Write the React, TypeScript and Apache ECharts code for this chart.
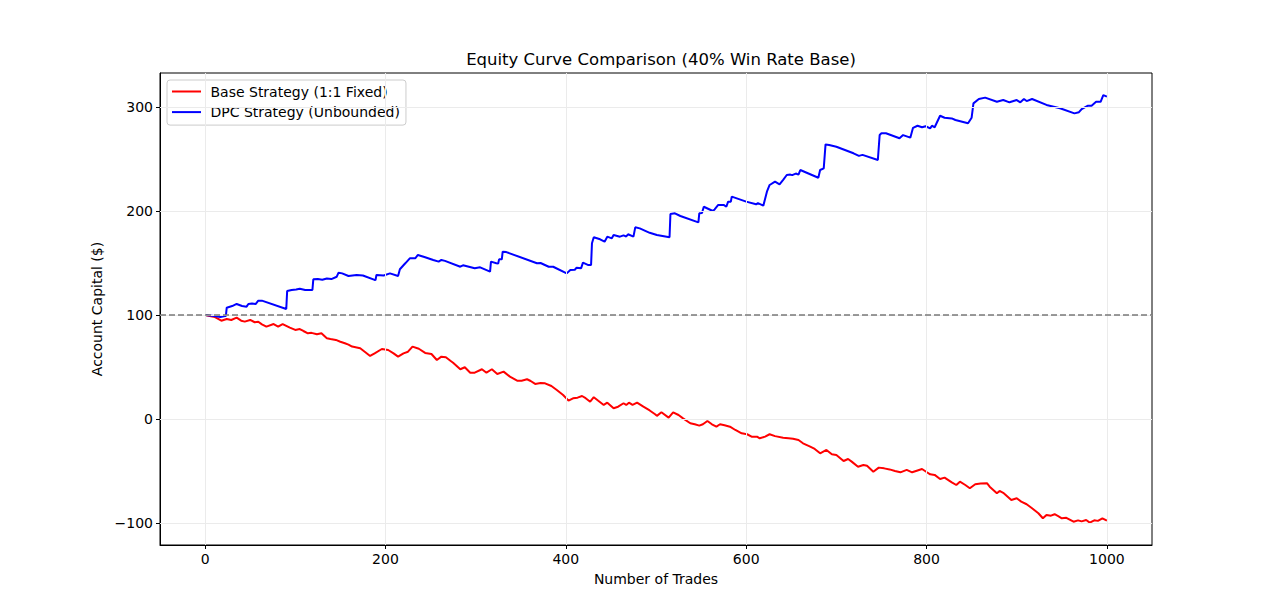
import React, { useEffect, useRef } from "react";
import * as echarts from "echarts";

const xTicks = [0, 200, 400, 600, 800, 1000];
const yTicks = [-100, 0, 100, 200, 300];

// Base Strategy (1:1 Fixed)
const baseTrades = [
  0, 5, 11, 18, 24, 29, 35, 40, 44, 50, 55, 59, 63, 68, 76, 81, 86, 94, 100, 105,
  109, 114, 118, 124, 129, 135, 139, 145, 150, 155, 159, 163, 172, 177, 183, 188, 196, 203, 209, 214,
  220, 225, 230, 237, 244, 251, 257, 262, 267, 272, 275, 283, 288, 294, 299, 307, 312, 318, 324, 331,
  338, 346, 351, 357, 361, 366, 372, 377, 384, 390, 397, 403, 408, 413, 418, 422, 427, 431, 436, 442,
  446, 453, 458, 464, 467, 470, 474, 479, 486, 493, 499, 501, 506, 514, 519, 525, 530, 538, 543, 548,
  552, 557, 562, 567, 571, 576, 582, 588, 595, 601, 606, 612, 615, 621, 626, 632, 641, 647, 652, 658,
  663, 671, 676, 682, 689, 695, 700, 708, 713, 717, 724, 730, 734, 741, 747, 753, 759, 765, 771, 778,
  784, 790, 795, 800, 804, 809, 815, 820, 828, 833, 837, 843, 848, 854, 860, 867, 870, 878, 881, 885,
  894, 900, 905, 911, 917, 924, 929, 933, 938, 942, 946, 950, 955, 963, 968, 972, 977, 981, 986, 990,
  995, 1000,
];
const baseCapital = [
  100, 99, 98, 94.5, 96.2, 95.2, 97.4, 94.5, 93.6, 95.2, 93, 93.5, 91, 88.8, 91.3, 88.8, 91.3, 87.8, 85.6, 86.5,
  84.6, 82.4, 82.8, 81.4, 82.4, 77.6, 76.9, 76, 74.3, 72.8, 71.5, 69.6, 68, 64.7, 60.6, 63.1, 67.3, 66.3, 63.1, 59.9,
  63.1, 64.7, 69.6, 67.5, 63.5, 62.5, 56.7, 59.9, 59.3, 56, 54.1, 47.8, 49.7, 44.5, 44.5, 47.8, 44.5, 47.8, 43.3, 45.5,
  40.7, 36.8, 36.8, 38.2, 36.5, 33.7, 34.5, 34.3, 31.7, 27.9, 23.1, 17.6, 19.9, 20.5, 22.1, 20, 16.6, 20.9, 17.5, 13.5,
  15.7, 10.3, 11.8, 15.1, 13.5, 15.7, 13.5, 15.7, 11.8, 8.2, 4.5, 3, 6.4, 1.3, 6.4, 3.8, 0.6, -4.1, -5.1, -6.4,
  -5.1, -1.9, -5.1, -7.4, -5.1, -6, -7.4, -10.6, -13.8, -14.7, -17, -17, -18.6, -17, -14.7, -16.5, -18, -18.5, -19, -20.2,
  -23.4, -26.6, -28.8, -33, -29.8, -34, -34.6, -40.4, -38.5, -41, -45.9, -44.2, -45, -50.7, -46.8, -47.5, -48.5, -50, -51.3, -49,
  -51.3, -49.5, -48.1, -51, -53.2, -53.8, -57.7, -56.4, -60.9, -63.5, -60.3, -63.5, -66.6, -62.8, -62, -61.8, -65.1, -71.4, -69.2, -71,
  -77.9, -76.3, -79.5, -82, -85.9, -90.7, -95.5, -92.3, -93, -91.6, -93.5, -95.5, -95, -98.8, -97.5, -98.5, -97.1, -99.7, -97.5, -98,
  -95.5, -97.8,
];

// DPC Strategy (Unbounded)
const dpcTrades = [
  0, 10, 17, 22, 23, 24, 30, 35, 41, 46, 48, 52, 56, 59, 63, 90, 91, 96, 101, 105,
  111, 119, 120, 125, 130, 135, 140, 146, 148, 152, 159, 168, 175, 188, 189, 190, 198, 205, 214, 216,
  222, 227, 233, 236, 244, 253, 259, 262, 266, 283, 286, 299, 305, 316, 317, 323, 325, 326, 329, 330,
  334, 368, 372, 381, 386, 401, 405, 410, 412, 417, 419, 425, 428, 429, 431, 438, 443, 446, 451, 453,
  460, 464, 467, 469, 475, 477, 482, 493, 501, 515, 516, 521, 527, 547, 548, 551, 553, 563, 565, 569,
  575, 578, 580, 583, 584, 600, 611, 613, 619, 623, 626, 632, 637, 641, 645, 649, 651, 655, 658, 660,
  680, 682, 686, 688, 692, 700, 719, 725, 729, 746, 748, 750, 755, 770, 774, 782, 785, 790, 795, 799,
  804, 806, 809, 815, 820, 828, 832, 846, 850, 852, 858, 865, 878, 885, 892, 900, 904, 908, 911, 917,
  933, 948, 964, 969, 972, 975, 979, 983, 988, 993, 996, 1000,
];
const dpcCapital = [
  100, 99, 98, 99, 99, 107, 108.6, 110.6, 108.6, 108, 110.6, 111, 110.5, 113.8, 113.8, 105.8, 123, 124, 124.5, 125.3,
  124, 124, 134.3, 134.5, 133.8, 135, 134.5, 136.8, 140.7, 140, 137.5, 138.5, 138, 133.7, 133.5, 138.5, 138, 140, 137.5, 144,
  149.7, 154.5, 154.5, 157.7, 155.5, 152.9, 151.3, 152.9, 152, 146.4, 147.8, 144.9, 145.8, 141.7, 151.3, 149.7, 149.5, 153.5, 153.5, 160.9,
  160.5, 149.7, 150, 146.4, 146.4, 140, 143.3, 143.5, 145.5, 145, 150.3, 148, 148, 168.9, 174.7, 172.8, 170.5, 175.3, 173.7, 176.9,
  175.3, 176.5, 175.5, 177.6, 175.3, 184.3, 183.3, 179, 176.9, 174.7, 197.1, 197.8, 195.2, 189.1, 197.8, 198, 204.1, 200, 201.5, 205.8,
  205.8, 204.1, 209, 209, 213.8, 209, 206.4, 207.5, 205.1, 218.6, 225, 228.2, 225.7, 230, 234.6, 235, 234.5, 236, 235, 239.4,
  232, 239.4, 241, 264, 263.5, 261.8, 255.5, 253, 254, 249, 273, 274.7, 274.7, 269.9, 273, 270.5, 280, 282, 280.5, 281.5,
  279.5, 282, 280.5, 291.6, 289.7, 289, 287.5, 284.3, 289.7, 303.5, 307.7, 309, 305, 306.7, 304.5, 306.7, 304.5, 307.7, 305.7, 307.7,
  302, 298.8, 293.9, 295, 298, 299.5, 301.3, 301.3, 305, 305, 311.5, 310,
];

const toPairs = (xs: number[], ys: number[]) => xs.map((x, i) => [x, ys[i]]);
const withMinus = (v: number) => String(v).replace("-", "\u2212");

const FONT = "DejaVu Sans";

const EquityChart = () => {
  const chartRef = useRef<HTMLDivElement>(null);

  useEffect(() => {
    if (!chartRef.current) return;
    const chart = echarts.init(chartRef.current, null, { renderer: "svg" });
    chart.setOption({
      animation: false,
      backgroundColor: "#fff",
      textStyle: { fontFamily: FONT, color: "#000" },
      title: {
        text: "Equity Curve Comparison (40% Win Rate Base)",
        left: 656,
        top: 46,
        textAlign: "center",
        textStyle: { fontSize: 16.5, fontWeight: "normal", color: "#000", fontFamily: FONT },
      },
      legend: {
        data: ["Base Strategy (1:1 Fixed)", "DPC Strategy (Unbounded)"],
        orient: "vertical",
        left: 167,
        top: 80,
        icon: "rect",
        itemWidth: 29,
        itemHeight: 2,
        itemGap: 4.6,
        padding: [3.5, 6, 5, 5],
        formatter: (name: string) => " " + name,
        backgroundColor: "rgba(255,255,255,0.8)",
        borderColor: "#cccccc",
        borderWidth: 1,
        borderRadius: 3,
        textStyle: { fontSize: 14, lineHeight: 16, color: "#000", fontFamily: FONT },
      },
      grid: {
        left: 160,
        right: 128,
        top: 73,
        bottom: 67,
        show: true,
        borderColor: "#000",
        borderWidth: 1,
      },
      xAxis: {
        type: "value",
        min: -50,
        max: 1050,
        name: "Number of Trades",
        nameLocation: "middle",
        nameGap: 27,
        nameTextStyle: { fontSize: 14, color: "#000", fontFamily: FONT },
        axisLine: { show: true, onZero: false, lineStyle: { color: "#000", width: 1 } },
        axisTick: { show: true, customValues: xTicks, length: 4, lineStyle: { color: "#000" } },
        axisLabel: {
          customValues: xTicks,
          fontSize: 14,
          color: "#000",
          margin: 7,
          fontFamily: FONT,
          formatter: (v: number) => String(v),
        },
        splitLine: { show: false },
      },
      yAxis: {
        type: "value",
        min: -121.2,
        max: 332.7,
        name: "Account Capital ($)",
        nameLocation: "middle",
        nameGap: 54,
        nameTextStyle: { fontSize: 14, color: "#000", fontFamily: FONT },
        axisLine: { show: true, onZero: false, lineStyle: { color: "#000", width: 1 } },
        axisTick: { show: true, customValues: yTicks, length: 4, lineStyle: { color: "#000" } },
        axisLabel: {
          customValues: yTicks,
          fontSize: 14,
          color: "#000",
          margin: 7,
          fontFamily: FONT,
          formatter: (v: number) => withMinus(v),
        },
        splitLine: { show: false },
      },
      series: [
        {
          name: "grid",
          type: "line",
          data: [],
          silent: true,
          z: 1,
          markLine: {
            silent: true,
            symbol: ["none", "none"],
            label: { show: false },
            lineStyle: { color: "#ebebeb", type: "solid", width: 1 },
            data: [
              ...xTicks.map((v) => ({ xAxis: v })),
              ...yTicks.map((v) => ({ yAxis: v })),
            ],
          },
        },
        {
          name: "Base Strategy (1:1 Fixed)",
          type: "line",
          data: toPairs(baseTrades, baseCapital),
          showSymbol: false,
          color: "#ff0000",
          lineStyle: { color: "#ff0000", width: 2 },
          z: 3,
        },
        {
          name: "DPC Strategy (Unbounded)",
          type: "line",
          data: toPairs(dpcTrades, dpcCapital),
          showSymbol: false,
          color: "#0000ff",
          lineStyle: { color: "#0000ff", width: 2 },
          z: 3,
          markLine: {
            silent: true,
            symbol: ["none", "none"],
            label: { show: false },
            lineStyle: { color: "#7a7a7a", type: [6, 3], width: 1.6 },
            data: [{ yAxis: 100 }],
          },
        },
      ],
    });
    return () => {
      chart.dispose();
    };
  }, []);

  return (
    <div
      ref={chartRef}
      style={{ position: "absolute", left: 0, top: 0, width: "1280px", height: "612px" }}
      aria-label="Equity Curve Comparison"
    />
  );
};

export default function App() {
  return <EquityChart />;
}
